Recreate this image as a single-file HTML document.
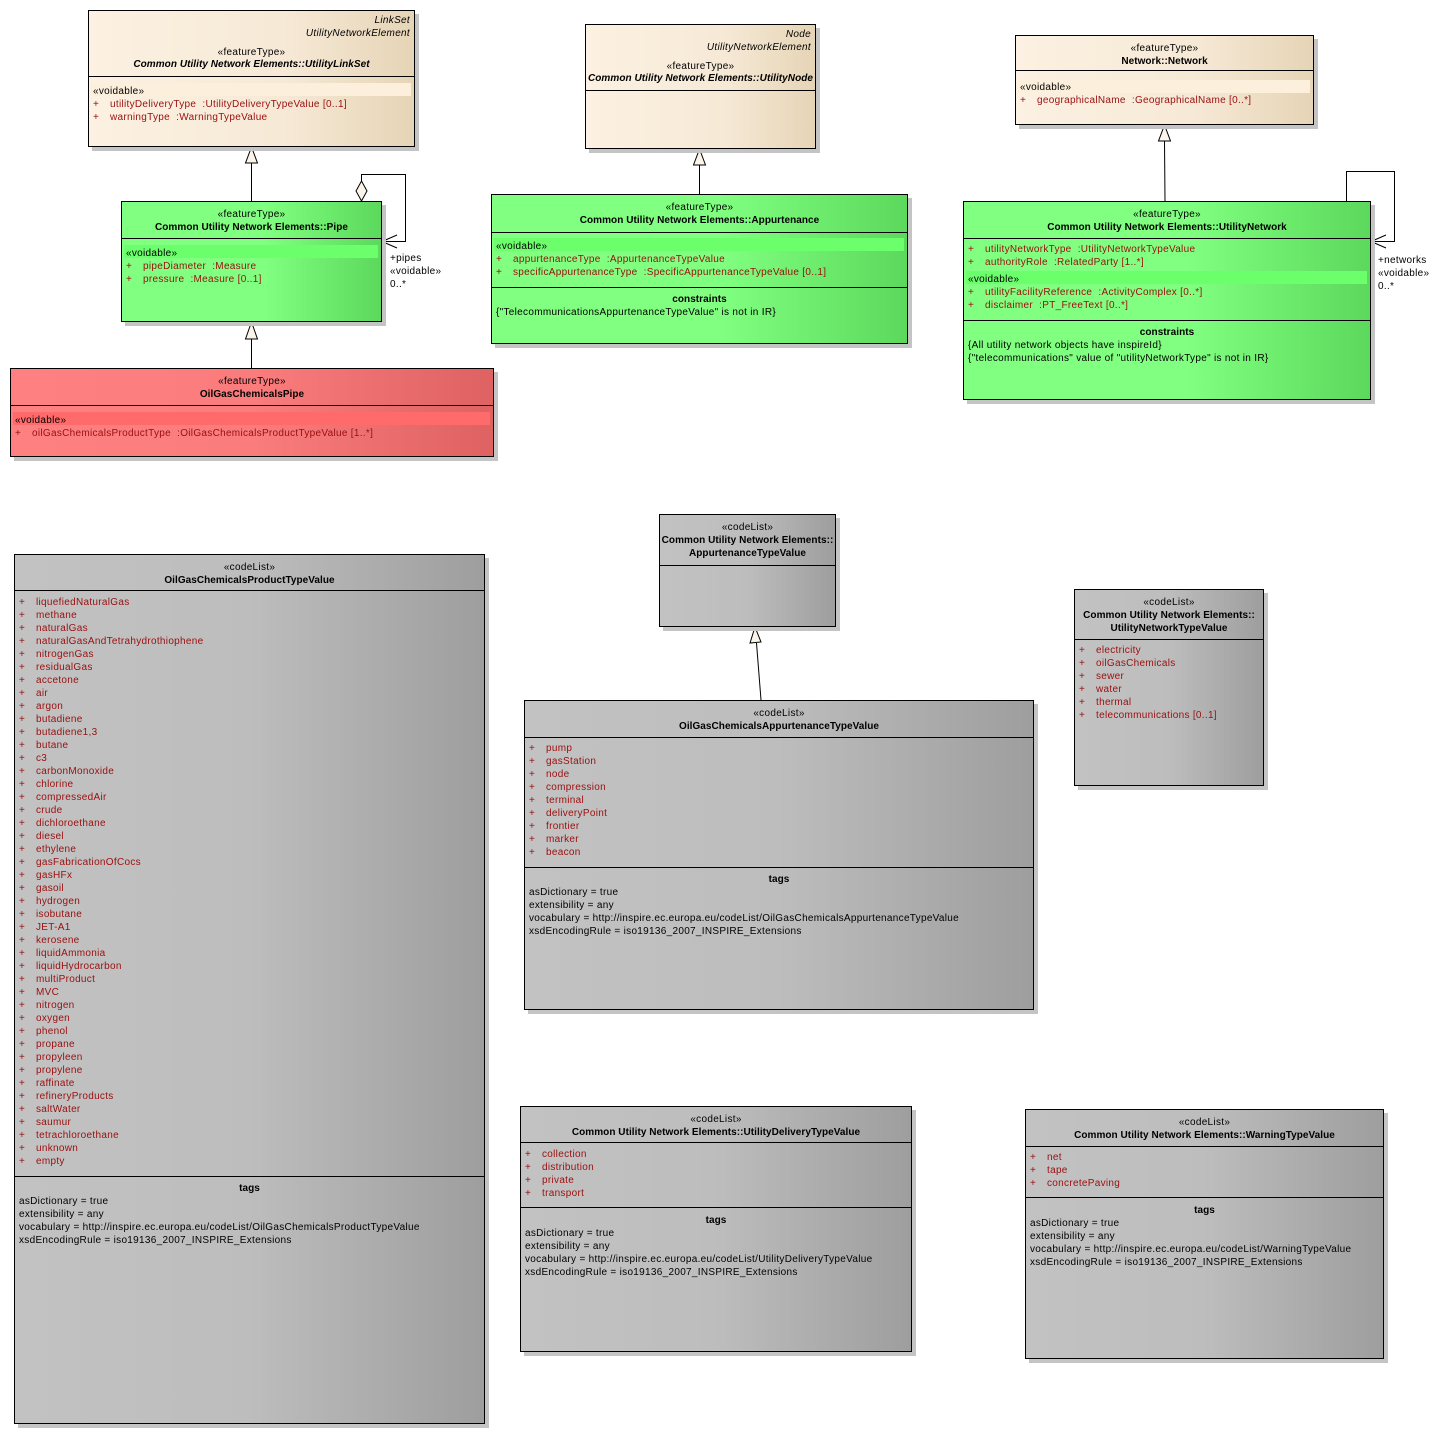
<!DOCTYPE html>
<html><head><meta charset="utf-8"><style>
body{margin:0;width:1447px;height:1434px;background:#fff;position:relative;overflow:hidden;font-family:"Liberation Sans",sans-serif;font-size:10px;letter-spacing:0.3px;}
.bx{position:absolute;border:1px solid #000;box-shadow:4px 4px 0 #c4c4c4;box-sizing:border-box;}
.be{background:linear-gradient(90deg,#fcf1e2 0%,#f6e9d6 60%,#e6d4b6 100%);}
.gr{background:linear-gradient(90deg,#80ff80 0%,#80ff80 55%,#5cd95c 100%);}
.rd{background:linear-gradient(90deg,#ff8080 0%,#fa7c7c 50%,#df6262 100%);}
.gy{background:linear-gradient(90deg,#c2c2c2 0%,#bdbdbd 50%,#9e9e9e 100%);}
.hl{position:absolute;height:1px;background:#000;}
.vb{position:absolute;height:13px;}
.c{position:absolute;text-align:center;line-height:13px;white-space:nowrap;margin-top:1px;}
.l{position:absolute;line-height:13px;white-space:nowrap;margin-top:1px;}
.r{color:#9a0f0f;line-height:13px;white-space:nowrap;}
.r b{display:inline-block;width:17px;font-weight:normal;}
.k{color:#000;line-height:13px;white-space:nowrap;}
.bd{font-weight:bold;letter-spacing:0.05px;}
.it{font-style:italic;}
</style></head><body>

<svg width="1447" height="1434" style="position:absolute;left:0;top:0" xmlns="http://www.w3.org/2000/svg">
<g stroke="#000" stroke-width="1" fill="none">
<line x1="251.5" y1="201" x2="251.5" y2="163"/>
<polygon points="251.5,147 245.5,163 257.5,163" fill="#fbf4ea"/>
<line x1="251.5" y1="368" x2="251.5" y2="339"/>
<polygon points="251.5,322 245.5,339 257.5,339" fill="#fbf4ea"/>
<polyline points="361.5,181 361.5,174.5 405.5,174.5 405.5,241.5 382,241.5"/>
<polygon points="361.5,181 367,191 361.5,201 356,191" fill="#fbf4ea"/>
<polyline points="397,235 382,241.5 397,248"/>
<line x1="699.5" y1="194" x2="699.5" y2="165"/>
<polygon points="699.5,149 693.5,165 705.5,165" fill="#fbf4ea"/>
<line x1="1165" y1="201" x2="1164.5" y2="141"/>
<polygon points="1164.5,125 1158.5,141 1170.5,141" fill="#fbf4ea"/>
<polyline points="1346.5,201 1346.5,171.5 1394.5,171.5 1394.5,241.5 1371,241.5"/>
<polyline points="1386,235 1371,241.5 1386,248"/>
<line x1="761" y1="700" x2="756.5" y2="643"/>
<polygon points="755,627 750,643 761,642" fill="#fbf4ea"/>
</g></svg>

<!-- UtilityLinkSet -->
<div class="bx be" style="left:88px;top:10px;width:327px;height:137px"></div>
<div class="hl" style="left:89px;top:76px;width:325px"></div>
<div class="l it" style="right:1037px;top:13px">LinkSet</div>
<div class="l it" style="right:1037px;top:26px">UtilityNetworkElement</div>
<div class="c" style="left:88px;width:327px;top:45px">«featureType»</div>
<div class="c bd it" style="left:88px;width:327px;top:57px">Common Utility Network Elements::UtilityLinkSet</div>
<div class="vb" style="left:91px;top:83px;width:320px;background:#fcefdc"></div>
<div class="l" style="left:93px;top:84px"><div class="k">«voidable»</div><div class="r"><b>+</b>utilityDeliveryType &nbsp;:UtilityDeliveryTypeValue [0..1]</div><div class="r"><b>+</b>warningType &nbsp;:WarningTypeValue</div></div>

<!-- UtilityNode -->
<div class="bx be" style="left:585px;top:24px;width:231px;height:125px"></div>
<div class="hl" style="left:586px;top:90px;width:229px"></div>
<div class="l it" style="right:636px;top:27px">Node</div>
<div class="l it" style="right:636px;top:40px">UtilityNetworkElement</div>
<div class="c" style="left:585px;width:231px;top:59px">«featureType»</div>
<div class="c bd it" style="left:585px;width:231px;top:71px">Common Utility Network Elements::UtilityNode</div>

<!-- Network -->
<div class="bx be" style="left:1015px;top:35px;width:299px;height:90px"></div>
<div class="hl" style="left:1016px;top:70px;width:297px"></div>
<div class="c" style="left:1015px;width:299px;top:41px">«featureType»</div>
<div class="c bd" style="left:1015px;width:299px;top:54px">Network::Network</div>
<div class="vb" style="left:1018px;top:80px;width:292px;background:#fcefdc"></div>
<div class="l" style="left:1020px;top:80px"><div class="k">«voidable»</div><div class="r"><b>+</b>geographicalName &nbsp;:GeographicalName [0..*]</div></div>

<!-- Pipe -->
<div class="bx gr" style="left:121px;top:201px;width:261px;height:121px"></div>
<div class="hl" style="left:122px;top:238px;width:259px"></div>
<div class="c" style="left:121px;width:261px;top:207px">«featureType»</div>
<div class="c bd" style="left:121px;width:261px;top:220px">Common Utility Network Elements::Pipe</div>
<div class="vb" style="left:124px;top:245px;width:254px;background:#6cff6c"></div>
<div class="l" style="left:126px;top:246px"><div class="k">«voidable»</div><div class="r"><b>+</b>pipeDiameter &nbsp;:Measure</div><div class="r"><b>+</b>pressure &nbsp;:Measure [0..1]</div></div>
<div class="l" style="left:390px;top:251px">+pipes<br>«voidable»<br>0..*</div>

<!-- Appurtenance -->
<div class="bx gr" style="left:491px;top:194px;width:417px;height:150px"></div>
<div class="hl" style="left:492px;top:232px;width:415px"></div>
<div class="hl" style="left:492px;top:287px;width:415px"></div>
<div class="c" style="left:491px;width:417px;top:200px">«featureType»</div>
<div class="c bd" style="left:491px;width:417px;top:213px">Common Utility Network Elements::Appurtenance</div>
<div class="vb" style="left:494px;top:238px;width:410px;background:#6cff6c"></div>
<div class="l" style="left:496px;top:239px"><div class="k">«voidable»</div><div class="r"><b>+</b>appurtenanceType &nbsp;:AppurtenanceTypeValue</div><div class="r"><b>+</b>specificAppurtenanceType &nbsp;:SpecificAppurtenanceTypeValue [0..1]</div></div>
<div class="c bd" style="left:491px;width:417px;top:292px">constraints</div>
<div class="l" style="left:496px;top:305px">{"TelecommunicationsAppurtenanceTypeValue" is not in IR}</div>

<!-- UtilityNetwork -->
<div class="bx gr" style="left:963px;top:201px;width:408px;height:199px"></div>
<div class="hl" style="left:964px;top:238px;width:406px"></div>
<div class="hl" style="left:964px;top:320px;width:406px"></div>
<div class="c" style="left:963px;width:408px;top:207px">«featureType»</div>
<div class="c bd" style="left:963px;width:408px;top:220px">Common Utility Network Elements::UtilityNetwork</div>
<div class="l" style="left:968px;top:242px"><div class="r"><b>+</b>utilityNetworkType &nbsp;:UtilityNetworkTypeValue</div><div class="r"><b>+</b>authorityRole &nbsp;:RelatedParty [1..*]</div></div>
<div class="vb" style="left:966px;top:271px;width:401px;background:#6cff6c"></div>
<div class="l" style="left:968px;top:272px"><div class="k">«voidable»</div><div class="r"><b>+</b>utilityFacilityReference &nbsp;:ActivityComplex [0..*]</div><div class="r"><b>+</b>disclaimer &nbsp;:PT_FreeText [0..*]</div></div>
<div class="c bd" style="left:963px;width:408px;top:325px">constraints</div>
<div class="l" style="left:968px;top:338px">{All utility network objects have inspireId}<br>{"telecommunications" value of "utilityNetworkType" is not in IR}</div>
<div class="l" style="left:1378px;top:253px">+networks<br>«voidable»<br>0..*</div>

<!-- OilGasChemicalsPipe -->
<div class="bx rd" style="left:10px;top:368px;width:484px;height:89px"></div>
<div class="hl" style="left:11px;top:405px;width:482px"></div>
<div class="c" style="left:10px;width:484px;top:374px">«featureType»</div>
<div class="c bd" style="left:10px;width:484px;top:387px">OilGasChemicalsPipe</div>
<div class="vb" style="left:13px;top:412px;width:477px;background:#ff6b6b"></div>
<div class="l" style="left:15px;top:413px"><div class="k">«voidable»</div><div class="r"><b>+</b>oilGasChemicalsProductType &nbsp;:OilGasChemicalsProductTypeValue [1..*]</div></div>

<!-- OilGasChemicalsProductTypeValue -->
<div class="bx gy" style="left:14px;top:554px;width:471px;height:870px"></div>
<div class="hl" style="left:15px;top:590px;width:469px"></div>
<div class="hl" style="left:15px;top:1176px;width:469px"></div>
<div class="c" style="left:14px;width:471px;top:560px">«codeList»</div>
<div class="c bd" style="left:14px;width:471px;top:573px">OilGasChemicalsProductTypeValue</div>
<div class="l" style="left:19px;top:595px">
<div class="r"><b>+</b>liquefiedNaturalGas</div><div class="r"><b>+</b>methane</div><div class="r"><b>+</b>naturalGas</div><div class="r"><b>+</b>naturalGasAndTetrahydrothiophene</div><div class="r"><b>+</b>nitrogenGas</div><div class="r"><b>+</b>residualGas</div><div class="r"><b>+</b>accetone</div><div class="r"><b>+</b>air</div><div class="r"><b>+</b>argon</div><div class="r"><b>+</b>butadiene</div><div class="r"><b>+</b>butadiene1,3</div><div class="r"><b>+</b>butane</div><div class="r"><b>+</b>c3</div><div class="r"><b>+</b>carbonMonoxide</div><div class="r"><b>+</b>chlorine</div><div class="r"><b>+</b>compressedAir</div><div class="r"><b>+</b>crude</div><div class="r"><b>+</b>dichloroethane</div><div class="r"><b>+</b>diesel</div><div class="r"><b>+</b>ethylene</div><div class="r"><b>+</b>gasFabricationOfCocs</div><div class="r"><b>+</b>gasHFx</div><div class="r"><b>+</b>gasoil</div><div class="r"><b>+</b>hydrogen</div><div class="r"><b>+</b>isobutane</div><div class="r"><b>+</b>JET-A1</div><div class="r"><b>+</b>kerosene</div><div class="r"><b>+</b>liquidAmmonia</div><div class="r"><b>+</b>liquidHydrocarbon</div><div class="r"><b>+</b>multiProduct</div><div class="r"><b>+</b>MVC</div><div class="r"><b>+</b>nitrogen</div><div class="r"><b>+</b>oxygen</div><div class="r"><b>+</b>phenol</div><div class="r"><b>+</b>propane</div><div class="r"><b>+</b>propyleen</div><div class="r"><b>+</b>propylene</div><div class="r"><b>+</b>raffinate</div><div class="r"><b>+</b>refineryProducts</div><div class="r"><b>+</b>saltWater</div><div class="r"><b>+</b>saumur</div><div class="r"><b>+</b>tetrachloroethane</div><div class="r"><b>+</b>unknown</div><div class="r"><b>+</b>empty</div>
</div>
<div class="c bd" style="left:14px;width:471px;top:1181px">tags</div>
<div class="l" style="left:19px;top:1194px">asDictionary = true<br>extensibility = any<br>vocabulary = http://inspire.ec.europa.eu/codeList/OilGasChemicalsProductTypeValue<br>xsdEncodingRule = iso19136_2007_INSPIRE_Extensions</div>

<!-- AppurtenanceTypeValue -->
<div class="bx gy" style="left:659px;top:514px;width:177px;height:113px"></div>
<div class="hl" style="left:660px;top:565px;width:175px"></div>
<div class="c" style="left:659px;width:177px;top:520px">«codeList»</div>
<div class="c bd" style="left:659px;width:177px;top:533px">Common Utility Network Elements::<br>AppurtenanceTypeValue</div>

<!-- UtilityNetworkTypeValue -->
<div class="bx gy" style="left:1074px;top:589px;width:190px;height:197px"></div>
<div class="hl" style="left:1075px;top:639px;width:188px"></div>
<div class="c" style="left:1074px;width:190px;top:595px">«codeList»</div>
<div class="c bd" style="left:1074px;width:190px;top:608px">Common Utility Network Elements::<br>UtilityNetworkTypeValue</div>
<div class="l" style="left:1079px;top:643px"><div class="r"><b>+</b>electricity</div><div class="r"><b>+</b>oilGasChemicals</div><div class="r"><b>+</b>sewer</div><div class="r"><b>+</b>water</div><div class="r"><b>+</b>thermal</div><div class="r"><b>+</b>telecommunications [0..1]</div></div>

<!-- OilGasChemicalsAppurtenanceTypeValue -->
<div class="bx gy" style="left:524px;top:700px;width:510px;height:310px"></div>
<div class="hl" style="left:525px;top:737px;width:508px"></div>
<div class="hl" style="left:525px;top:867px;width:508px"></div>
<div class="c" style="left:524px;width:510px;top:706px">«codeList»</div>
<div class="c bd" style="left:524px;width:510px;top:719px">OilGasChemicalsAppurtenanceTypeValue</div>
<div class="l" style="left:529px;top:741px"><div class="r"><b>+</b>pump</div><div class="r"><b>+</b>gasStation</div><div class="r"><b>+</b>node</div><div class="r"><b>+</b>compression</div><div class="r"><b>+</b>terminal</div><div class="r"><b>+</b>deliveryPoint</div><div class="r"><b>+</b>frontier</div><div class="r"><b>+</b>marker</div><div class="r"><b>+</b>beacon</div></div>
<div class="c bd" style="left:524px;width:510px;top:872px">tags</div>
<div class="l" style="left:529px;top:885px">asDictionary = true<br>extensibility = any<br>vocabulary = http://inspire.ec.europa.eu/codeList/OilGasChemicalsAppurtenanceTypeValue<br>xsdEncodingRule = iso19136_2007_INSPIRE_Extensions</div>

<!-- UtilityDeliveryTypeValue -->
<div class="bx gy" style="left:520px;top:1106px;width:392px;height:246px"></div>
<div class="hl" style="left:521px;top:1142px;width:390px"></div>
<div class="hl" style="left:521px;top:1207px;width:390px"></div>
<div class="c" style="left:520px;width:392px;top:1112px">«codeList»</div>
<div class="c bd" style="left:520px;width:392px;top:1125px">Common Utility Network Elements::UtilityDeliveryTypeValue</div>
<div class="l" style="left:525px;top:1147px"><div class="r"><b>+</b>collection</div><div class="r"><b>+</b>distribution</div><div class="r"><b>+</b>private</div><div class="r"><b>+</b>transport</div></div>
<div class="c bd" style="left:520px;width:392px;top:1213px">tags</div>
<div class="l" style="left:525px;top:1226px">asDictionary = true<br>extensibility = any<br>vocabulary = http://inspire.ec.europa.eu/codeList/UtilityDeliveryTypeValue<br>xsdEncodingRule = iso19136_2007_INSPIRE_Extensions</div>

<!-- WarningTypeValue -->
<div class="bx gy" style="left:1025px;top:1109px;width:359px;height:250px"></div>
<div class="hl" style="left:1026px;top:1146px;width:357px"></div>
<div class="hl" style="left:1026px;top:1197px;width:357px"></div>
<div class="c" style="left:1025px;width:359px;top:1115px">«codeList»</div>
<div class="c bd" style="left:1025px;width:359px;top:1128px">Common Utility Network Elements::WarningTypeValue</div>
<div class="l" style="left:1030px;top:1150px"><div class="r"><b>+</b>net</div><div class="r"><b>+</b>tape</div><div class="r"><b>+</b>concretePaving</div></div>
<div class="c bd" style="left:1025px;width:359px;top:1203px">tags</div>
<div class="l" style="left:1030px;top:1216px">asDictionary = true<br>extensibility = any<br>vocabulary = http://inspire.ec.europa.eu/codeList/WarningTypeValue<br>xsdEncodingRule = iso19136_2007_INSPIRE_Extensions</div>

</body></html>
